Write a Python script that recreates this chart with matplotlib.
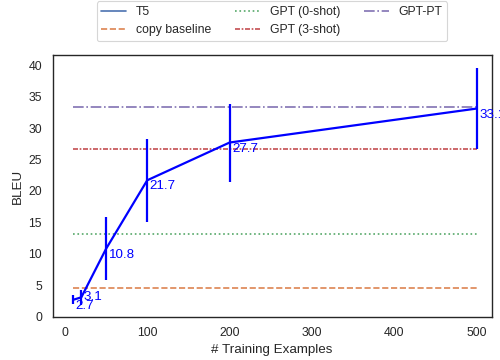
import numpy as np
import matplotlib
matplotlib.use("Agg")
import matplotlib.pyplot as plt
import seaborn as sns
from matplotlib.lines import Line2D

sns.set_theme(style="white")
plt.rcParams['font.family'] = ['Liberation Sans', 'DejaVu Sans']

n_examples = [10, 20, 50, 100, 200, 500]
t5_bleu = [2.7, 3.1, 10.8, 21.7, 27.7, 33.1]
t5_err = [0.7, 1.2, 5.0, 6.6, 6.2, 6.4]

copy_baseline = 4.6
gpt_0shot = 13.2
gpt_3shot = 26.6
gpt_pt = 33.4

fig = plt.figure(figsize=(6.25, 4.5))
ax = fig.add_axes([0.105, 0.12, 0.878, 0.727])

xs = [n_examples[0], n_examples[-1]]
ax.plot(xs, [copy_baseline] * 2, color="C1", ls="--", label="copy baseline")
ax.plot(xs, [gpt_0shot] * 2, color="C2", ls=":", label="GPT (0-shot)")
ax.plot(xs, [gpt_3shot] * 2, color="C3", ls=(0, (3, 1, 1, 1)), label="GPT (3-shot)")
ax.plot(xs, [gpt_pt] * 2, color="C4", ls="-.", label="GPT-PT")

ax.errorbar(n_examples, t5_bleu, yerr=t5_err, color="blue", lw=2)
for x, y in zip(n_examples, t5_bleu):
    # nudge the 20-example label up so it sits above the 10-example one
    ty = y + 1.0 if x == 20 else y
    ax.text(x + 3, ty, f"{y}", color="blue", va="top", ha="left", fontsize=12)

handles, labels = ax.get_legend_handles_labels()
handles = [Line2D([], [], color="C0")] + handles
labels = ["T5"] + labels
ax.legend(handles, labels, ncol=3, loc="lower center", bbox_to_anchor=(0.5, 1.03),
          fontsize=11)

ax.set_xlim(-15, 518)
ax.set_ylim(0, 41.6)
ax.set_xlabel("# Training Examples")
ax.set_ylabel("BLEU")

fig.savefig("out.png", dpi=80)
